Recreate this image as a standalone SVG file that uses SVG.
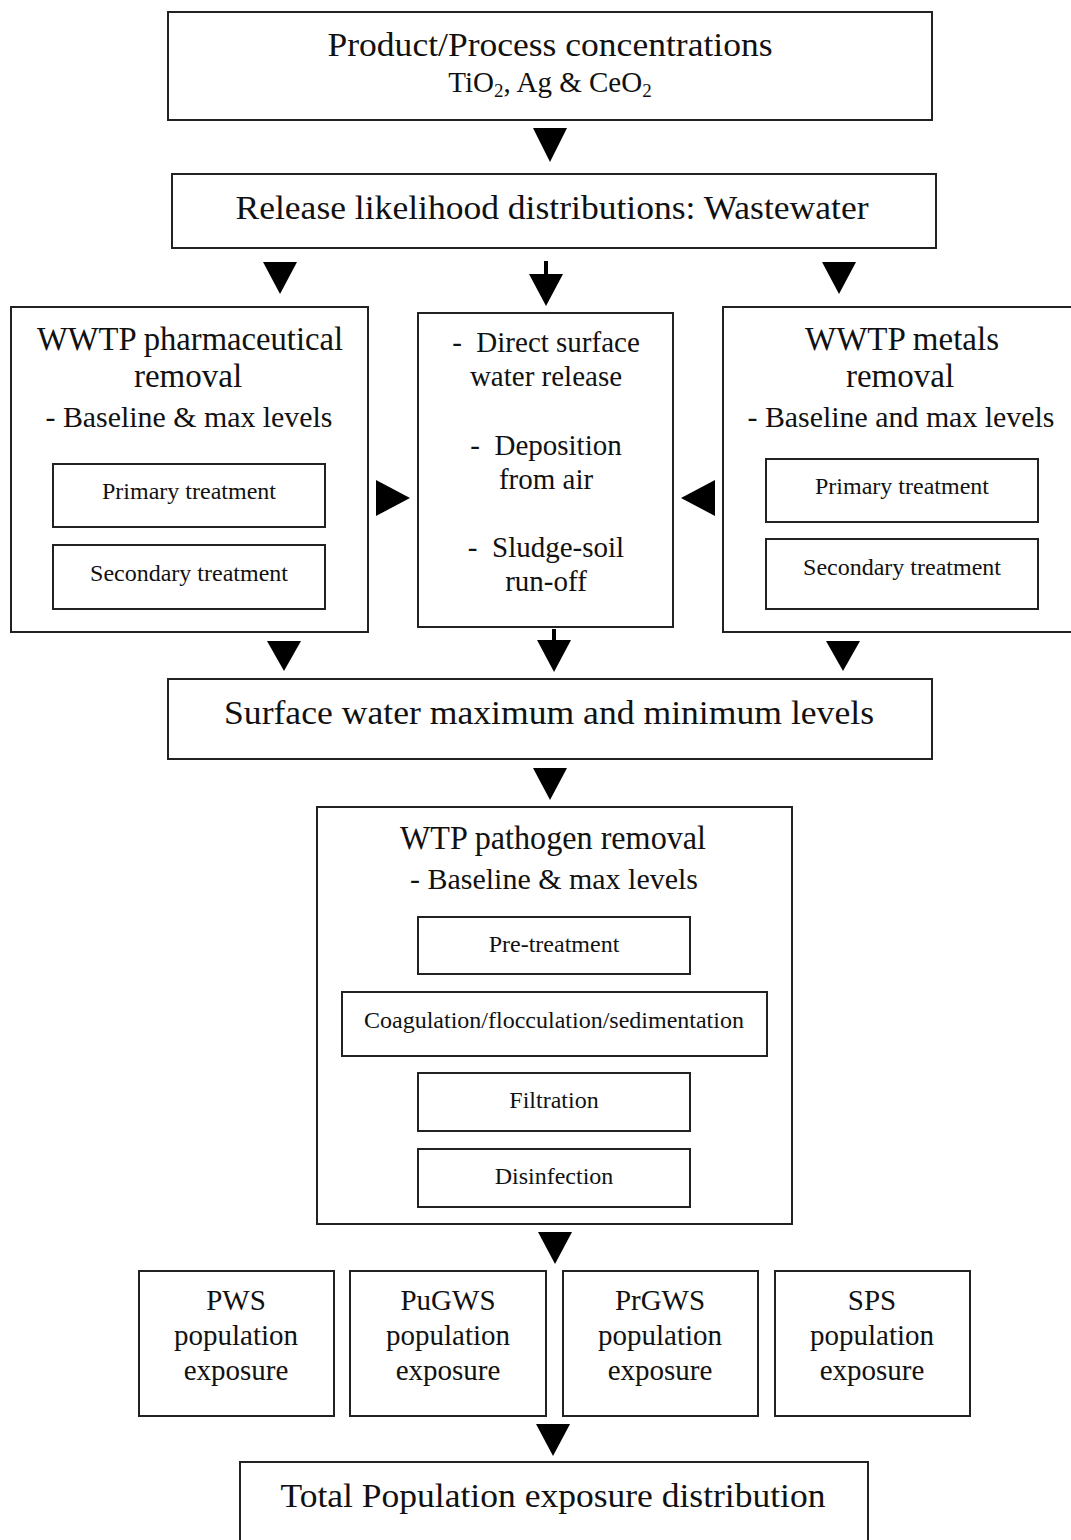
<svg xmlns="http://www.w3.org/2000/svg" width="1071" height="1540" viewBox="0 0 1071 1540">
<style>
.box{fill:#fff;stroke:#222;stroke-width:2}
.t{font-family:"Liberation Serif","Times New Roman",serif;fill:#111;text-anchor:middle}
.big{font-size:33px}
.mid{font-size:29px}
.sm{font-size:24px}
.arr{fill:#000}
.stem{stroke:#000;stroke-width:4}
</style>
<rect width="1071" height="1540" fill="#fff"/>
<g id="connectors">
<polygon class="arr" points="533,128 567,128 550,162"/>
<polygon class="arr" points="263,262 297,262 280,294"/>
<line class="stem" x1="546" y1="261" x2="546" y2="280"/>
<polygon class="arr" points="529,274 563,274 546,306"/>
<polygon class="arr" points="822,262 856,262 839,294"/>
<polygon class="arr" points="376,480 376,516 410,498"/>
<polygon class="arr" points="715,480 715,516 681,498"/>
<polygon class="arr" points="267,641 301,641 284,671"/>
<line class="stem" x1="554" y1="629" x2="554" y2="645"/>
<polygon class="arr" points="537,640 571,640 554,672"/>
<polygon class="arr" points="826,641 860,641 843,671"/>
<polygon class="arr" points="533,768 567,768 550,800"/>
<polygon class="arr" points="538,1232 572,1232 555,1264"/>
<polygon class="arr" points="536,1424 570,1424 553,1456"/>
</g>
<g id="n1">
<rect class="box" x="168" y="12" width="764" height="108"/>
<text class="t big" x="550" y="56" textLength="445" lengthAdjust="spacingAndGlyphs">Product/Process concentrations</text>
<text class="t" x="550" y="92" font-size="29">TiO<tspan font-size="19" dy="5">2</tspan><tspan dy="-5">, Ag &amp; CeO</tspan><tspan font-size="19" dy="5">2</tspan></text>
</g>
<g id="n2">
<rect class="box" x="172" y="174" width="764" height="74"/>
<text class="t big" x="552" y="219" textLength="633" lengthAdjust="spacingAndGlyphs">Release likelihood distributions: Wastewater</text>
</g>
<g id="n3">
<rect class="box" x="11" y="307" width="357" height="325"/>
<text class="t big" x="190" y="350" textLength="306" lengthAdjust="spacingAndGlyphs">WWTP pharmaceutical</text>
<text class="t big" x="188" y="387">removal</text>
<text class="t mid" x="189" y="427" textLength="287" lengthAdjust="spacingAndGlyphs">- Baseline &amp; max levels</text>
<rect class="box" x="53" y="464" width="272" height="63"/>
<text class="t sm" x="189" y="499">Primary treatment</text>
<rect class="box" x="53" y="545" width="272" height="64"/>
<text class="t sm" x="189" y="581">Secondary treatment</text>
</g>
<g id="n4">
<rect class="box" x="418" y="313" width="255" height="314"/>
<text class="t mid" x="546" y="352" xml:space="preserve">-  Direct surface</text>
<text class="t mid" x="546" y="386">water release</text>
<text class="t mid" x="546" y="455" xml:space="preserve">-  Deposition</text>
<text class="t mid" x="546" y="489">from air</text>
<text class="t mid" x="546" y="557" xml:space="preserve">-  Sludge-soil</text>
<text class="t mid" x="546" y="591">run-off</text>
</g>
<g id="n5">
<rect class="box" x="723" y="307" width="360" height="325"/>
<text class="t big" x="902" y="350">WWTP metals</text>
<text class="t big" x="900" y="387">removal</text>
<text class="t mid" x="901" y="427" textLength="307" lengthAdjust="spacingAndGlyphs">- Baseline and max levels</text>
<rect class="box" x="766" y="459" width="272" height="63"/>
<text class="t sm" x="902" y="494">Primary treatment</text>
<rect class="box" x="766" y="539" width="272" height="70"/>
<text class="t sm" x="902" y="575">Secondary treatment</text>
</g>
<g id="n6">
<rect class="box" x="168" y="679" width="764" height="80"/>
<text class="t big" x="549" y="724" textLength="650" lengthAdjust="spacingAndGlyphs">Surface water maximum and minimum levels</text>
</g>
<g id="n7">
<rect class="box" x="317" y="807" width="475" height="417"/>
<text class="t big" x="553" y="849" textLength="306" lengthAdjust="spacingAndGlyphs">WTP pathogen removal</text>
<text class="t mid" x="554" y="889" textLength="288" lengthAdjust="spacingAndGlyphs">- Baseline &amp; max levels</text>
<rect class="box" x="418" y="917" width="272" height="57"/>
<text class="t sm" x="554" y="952">Pre-treatment</text>
<rect class="box" x="342" y="992" width="425" height="64"/>
<text class="t sm" x="554" y="1028">Coagulation/flocculation/sedimentation</text>
<rect class="box" x="418" y="1073" width="272" height="58"/>
<text class="t sm" x="554" y="1108">Filtration</text>
<rect class="box" x="418" y="1149" width="272" height="58"/>
<text class="t sm" x="554" y="1184">Disinfection</text>
</g>
<g id="n8">
<rect class="box" x="139" y="1271" width="195" height="145"/>
<text class="t mid" x="236" y="1310">PWS</text>
<text class="t mid" x="236" y="1345">population</text>
<text class="t mid" x="236" y="1380">exposure</text>
</g>
<g id="n9">
<rect class="box" x="350" y="1271" width="196" height="145"/>
<text class="t mid" x="448" y="1310">PuGWS</text>
<text class="t mid" x="448" y="1345">population</text>
<text class="t mid" x="448" y="1380">exposure</text>
</g>
<g id="n10">
<rect class="box" x="563" y="1271" width="195" height="145"/>
<text class="t mid" x="660" y="1310">PrGWS</text>
<text class="t mid" x="660" y="1345">population</text>
<text class="t mid" x="660" y="1380">exposure</text>
</g>
<g id="n11">
<rect class="box" x="775" y="1271" width="195" height="145"/>
<text class="t mid" x="872" y="1310">SPS</text>
<text class="t mid" x="872" y="1345">population</text>
<text class="t mid" x="872" y="1380">exposure</text>
</g>
<g id="n12">
<rect class="box" x="240" y="1462" width="628" height="90"/>
<text class="t big" x="553" y="1507" textLength="545" lengthAdjust="spacingAndGlyphs">Total Population exposure distribution</text>
</g>
</svg>
